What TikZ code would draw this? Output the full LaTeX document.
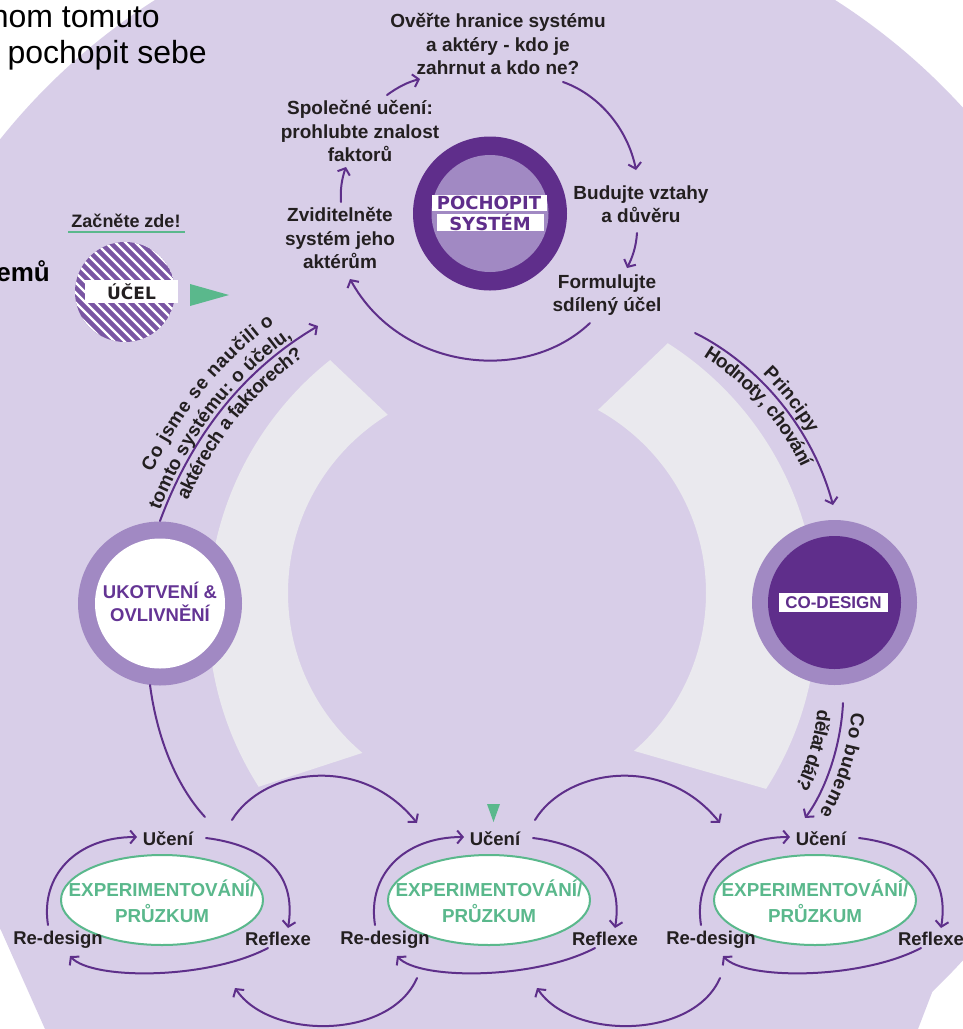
\documentclass[tikz,border=0pt]{standalone}
\usepackage{fontspec}
\setmainfont{Liberation Sans}
\newfontfamily\dvs{DejaVu Sans}
\usetikzlibrary{arrows.meta,shapes.geometric,decorations.text}
\definecolor{bgp}{RGB}{216,206,232}
\definecolor{ringl}{RGB}{161,137,195}
\definecolor{dpur}{RGB}{95,46,139}
\definecolor{ukpur}{RGB}{100,52,148}
\definecolor{pline}{RGB}{94,47,138}
\definecolor{band}{RGB}{234,233,238}
\definecolor{grn}{RGB}{90,184,140}
\definecolor{txt}{RGB}{35,31,32}
\definecolor{hatchc}{RGB}{122,86,163}
\newcommand{\fb}{\bfseries\fontsize{19}{23.5}\selectfont}
\newcommand{\fl}{\bfseries\fontsize{18.5}{22}\selectfont}
\newcommand{\fe}{\bfseries\fontsize{18.8}{26}\selectfont}
\begin{document}
\begin{tikzpicture}[x=1pt,y=-1pt,line cap=round,line join=round,
  arr/.style={draw=pline,line width=2pt,-{Straight Barb[length=5.5pt,width=13pt]}},
  conn/.style={draw=pline,line width=2pt},
  tc/.style={font=\fb,text=txt,align=center,inner sep=0pt},
  lbl/.style={font=\fl,text=txt,inner sep=0pt},
  ellbox/.style={ellipse,draw=grn,line width=2pt,fill=white,minimum width=202pt,minimum height=90pt,inner sep=0pt},
  elltext/.style={inner sep=0pt,font=\fe,text=grn,align=center},
  wbox/.style={fill=white,inner sep=0pt,text=dpur,font=\dvs\bfseries\fontsize{18}{18}\selectfont},
  disc/.style={circle,inner sep=0pt,draw=none},
  ctext/.style={decorate,decoration={text along path,text color=txt,#1}}
]
\useasboundingbox (0,0) rectangle (963,1029);
\fill[white] (0,0) rectangle (963,1029);
% large background
\fill[bgp] (495,534) circle (633pt);
\fill[bgp] (0,600) -- (0,928) -- (45,1029) -- (918,1029) -- (963,912) -- (963,600) -- cycle;
% left grey band
\begin{scope}
  \clip (272,305) -- (446,470) -- (466,719) -- (154,821) -- (20,560) -- cycle;
  \fill[band,even odd rule] (531,613) circle (323pt) (497,593) circle (209pt);
\end{scope}
% right grey band
\begin{scope}
  \clip (736,278) -- (532,473) -- (513,716) -- (888,824) -- (980,560) -- cycle;
  \fill[band,even odd rule] (495,615) circle (322pt) (497,593) circle (209pt);
\end{scope}

% top-left partial texts
\node[anchor=base east,inner sep=0pt,font=\fontsize{32}{32}\selectfont,text=black] (t1) at (160,27) {nom tomuto};
\node[anchor=base east,inner sep=0pt,font=\fontsize{32}{32}\selectfont,text=black] (t2) at (207,63) {pochopit sebe};
\node[anchor=base east,inner sep=0pt,font=\bfseries\fontsize{26}{26}\selectfont,text=black] (t3) at (50,281) {emů};

% start here
\node[inner sep=0pt,font=\bfseries\fontsize{18}{18}\selectfont,text=txt] (start) at (126,221) {Začněte zde!};
\draw[grn,line width=2pt,line cap=butt] (68,232) -- (185,232);
\begin{scope}
  \clip (125,292) circle (50pt);
  \fill[hatchc] (125,292) circle (50pt);
  \foreach \k in {-130,-120,...,130} \draw[white,line width=2.4pt] (125+\k-70,292-70) -- (125+\k+70,292+70);
\end{scope}
\node[fill=white,inner sep=0pt,minimum width=93pt,minimum height=23pt,text=txt,font=\dvs\bfseries\fontsize{17}{17}\selectfont] (ucel) at (131.5,291.5) {ÚČEL};
\fill[grn] (190,284) -- (190,306) -- (229,295) -- cycle;

% POCHOPIT SYSTEM
\node[disc,fill=dpur,minimum size=154pt] (pc) at (490,213.5) {};
\node[disc,fill=ringl,minimum size=117pt] (pci) at (490,213.5) {};
\node[wbox,minimum width=115pt,minimum height=16pt] (poch) at (489,203) {POCHOPIT};
\node[wbox,minimum width=107pt,minimum height=15pt] (sys) at (490,222.5) {SYSTÉM};

% top cycle texts
\node[tc] (overte) at (498,44) {Ověřte hranice systému\\a aktéry - kdo je\\zahrnut a kdo ne?};
\node[tc] (spol) at (360,131) {Společné učení:\\prohlubte znalost\\faktorů};
\node[tc] (zvid) at (340,238) {Zviditelněte\\systém jeho\\aktérům};
\node[tc] (bud) at (641,204) {Budujte vztahy\\a důvěru};
\node[tc] (form) at (607,295) {Formulujte\\sdílený účel};

\coordinate (a1s) at (387,95);  \coordinate (a1e) at (420,79);
\coordinate (a2s) at (563,82);  \coordinate (a2e) at (636,170);
\coordinate (a3s) at (637,233); \coordinate (a3e) at (627,268);
\coordinate (a4s) at (590,323); \coordinate (a4e) at (350,279);
\coordinate (a5s) at (341,202); \coordinate (a5e) at (346,167);
\draw[arr] (a1s) .. controls (398,87) and (408,82) .. (a1e);
\draw[arr] (a2s) .. controls (600,95) and (628,130) .. (a2e);
\draw[arr] (a3s) .. controls (636,248) and (632,258) .. (a3e);
\draw[arr] (a4s) .. controls (525,385) and (400,370) .. (a4e);
\draw[arr] (a5s) .. controls (340,190) and (342,178) .. (a5e);

% UKOTVENI
\node[disc,fill=ringl,minimum size=164pt] (ukc) at (160,603.5) {};
\node[disc,fill=white,minimum size=130pt] (uki) at (160,603.5) {};
\node[inner sep=0pt,align=center,text=ukpur,font=\bfseries\fontsize{18.5}{23}\selectfont] (uk) at (160,601.5) {UKOTVENÍ \&\\OVLIVNĚNÍ};

% CO-DESIGN
\node[disc,fill=ringl,minimum size=165pt] (cdc) at (834.5,602.5) {};
\node[disc,fill=dpur,minimum size=133pt] (cdi) at (834.5,602.5) {};
\node[fill=white,inner sep=0pt,minimum width=109pt,minimum height=19pt,text=dpur,font=\bfseries\fontsize{17}{17}\selectfont] (cod) at (833.5,602.5) {CO-DESIGN};

% curved arrow with text: left
\coordinate (p1s) at (160,521); \coordinate (p1e) at (318,326);
\draw[arr] (p1s) .. controls (190,440) and (240,372) .. (p1e);
\path[ctext={raise=26pt,text align={left indent=40pt},text={|\fb|Co jsme se naučili o}}] (p1s) .. controls (190,440) and (240,372) .. (p1e);
\path[ctext={raise=4pt,text align={left indent=10pt},text={|\fb|tomto systému:  o účelu,}}] (p1s) .. controls (190,440) and (240,372) .. (p1e);
\path[ctext={raise=-18pt,text align={left indent=30pt},text={|\fb|aktérech a faktorech?}}] (p1s) .. controls (190,440) and (240,372) .. (p1e);

% curved arrow with text: right top
\coordinate (p2s) at (695,333); \coordinate (p2e) at (833,505);
\draw[arr] (p2s) .. controls (750,360) and (810,420) .. (p2e);
\path[ctext={raise=6pt,text align={left indent=78pt},text={|\fb|Principy}}] (p2s) .. controls (750,360) and (810,420) .. (p2e);
\path[ctext={raise=-17pt,text align={left indent=20pt},text={|\fb|Hodnoty, chování}}] (p2s) .. controls (750,360) and (810,420) .. (p2e);

% curved arrow with text: right bottom
\coordinate (p3s) at (843,703); \coordinate (p3e) at (805,818);
\draw[arr] (p3s) .. controls (841,745) and (826,790) .. (p3e);
\path[ctext={raise=9pt,text align={left indent=8pt},text={|\fb|Co budeme}}] (p3s) .. controls (841,745) and (826,790) .. (p3e);
\path[ctext={raise=-25pt,text align={left indent=10pt},text={|\fb|dělat dál?}}] (p3s) .. controls (841,745) and (826,790) .. (p3e);

% line from UKOTVENI down
\coordinate (uks) at (150,685); \coordinate (uke) at (205,817);
\draw[conn] (uks) .. controls (158,745) and (180,790) .. (uke);

% bottom units
\foreach \cx/\n in {162/a,489/b,815/c}{
  \node[ellbox] (eb\n) at (\cx,900) {};
  \node[elltext] (ex\n) at (\cx,901) {EXPERIMENTOVÁNÍ/\\PRŮZKUM};
  \node[lbl] (uc\n) at (\cx+6,839) {Učení};
  \node[lbl] (rd\n) at (\cx-104,940) {Re-design};
  \node[lbl] (rf\n) at (\cx+116,939) {Reflexe};
  \coordinate (ra\n) at (\cx-114,925);
  \coordinate (rb\n) at (\cx-25,837);
  \coordinate (ua\n) at (\cx+44,838);
  \coordinate (ub\n) at (\cx+126,928);
  \coordinate (fa\n) at (\cx+106,948);
  \coordinate (fb\n) at (\cx-92,956);
  \draw[arr] (ra\n) .. controls (\cx-122,875) and (\cx-85,837) .. (rb\n);
  \draw[arr] (ua\n) .. controls (\cx+100,845) and (\cx+135,872) .. (ub\n);
  \draw[arr] (fa\n) .. controls (\cx+45,980) and (\cx-70,980) .. (fb\n);
}
% links between units
\coordinate (l1s) at (232,820); \coordinate (l1e) at (417,823);
\coordinate (l2s) at (535,820); \coordinate (l2e) at (720,823);
\draw[arr] (l1s) .. controls (262,770) and (360,752) .. (l1e);
\draw[arr] (l2s) .. controls (565,770) and (663,752) .. (l2e);
\coordinate (m1s) at (417,978); \coordinate (m1e) at (235,988);
\coordinate (m2s) at (720,978); \coordinate (m2e) at (537,988);
\draw[arr] (m1s) .. controls (390,1040) and (270,1040) .. (m1e);
\draw[arr] (m2s) .. controls (693,1040) and (572,1040) .. (m2e);
% green marker
\fill[grn] (487,804) -- (500,804) -- (493.5,822) -- cycle;
\end{tikzpicture}
\end{document}
